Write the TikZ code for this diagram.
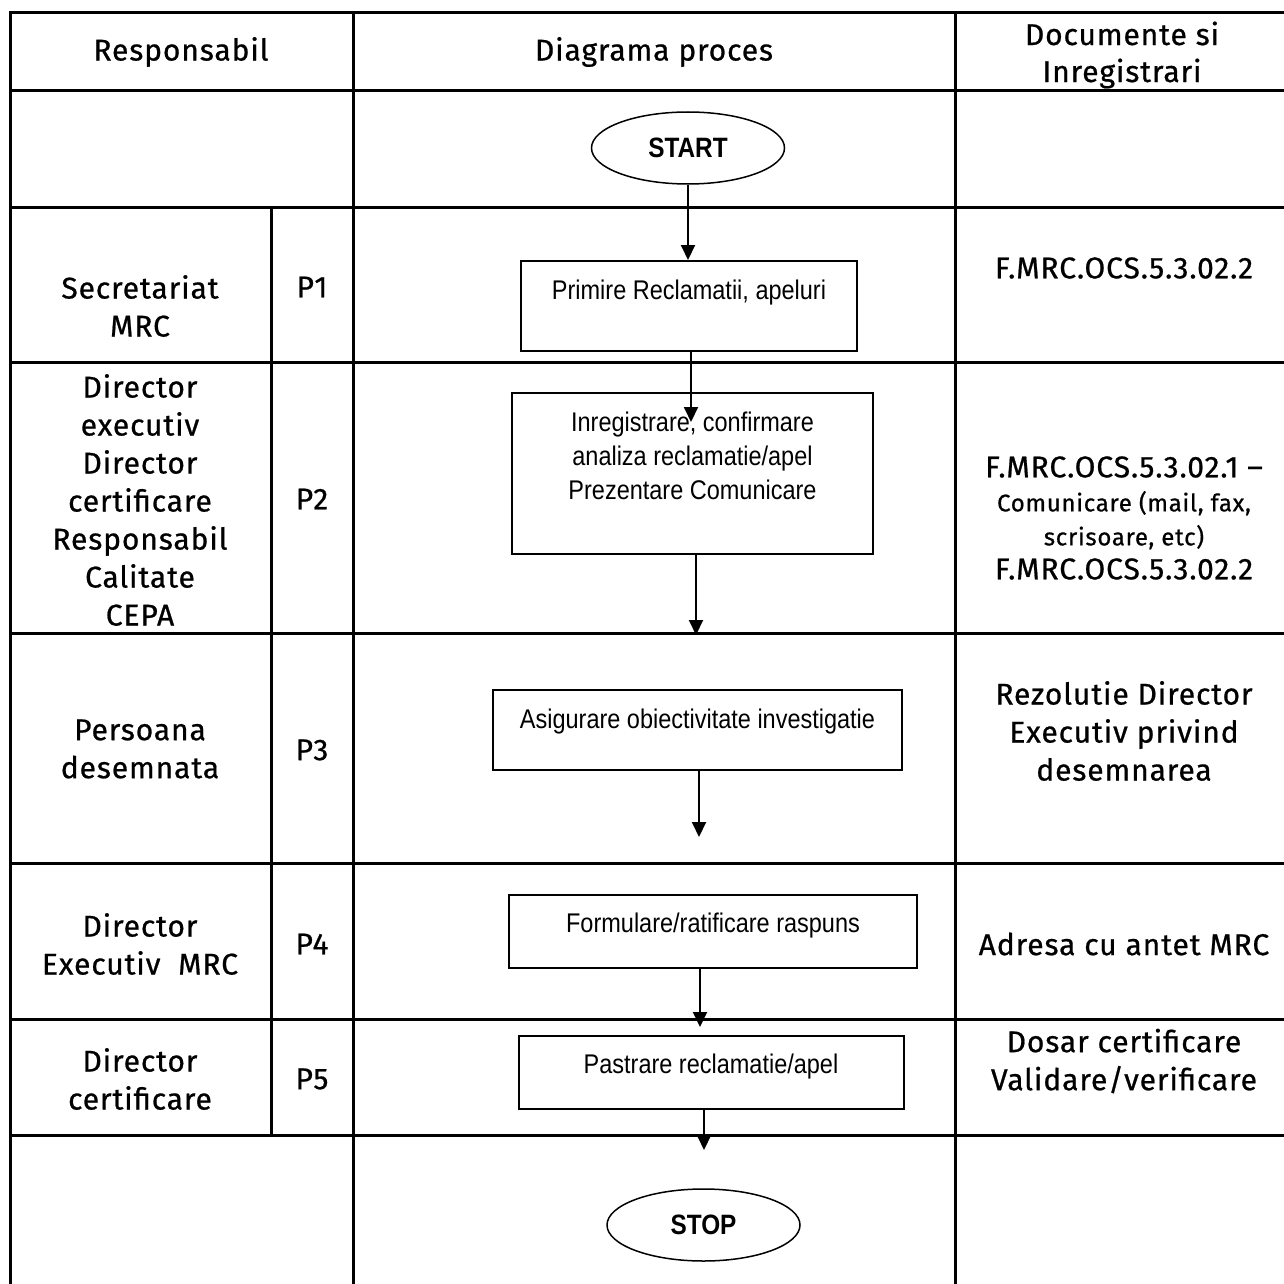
\documentclass[tikz,border=0pt]{standalone}
\usepackage{fontspec}
\setmainfont{Fira Sans}[LetterSpace=3, FakeBold=0.7]
\newfontfamily\boxfont{Liberation Sans}[FakeStretch=0.87]
\usetikzlibrary{arrows.meta,shapes.geometric}
\begin{document}
\begin{tikzpicture}[x=1pt,y=-1pt,
  grid/.style={line width=3pt},
  cell/.style={font=\fontsize{30}{38}\selectfont, align=center, inner sep=0pt},
  procbox/.style={draw, line width=2pt, inner sep=0pt},
  term/.style={draw, ellipse, line width=1.5pt, inner sep=0pt, minimum width=193pt, minimum height=72pt, font=\boxfont\bfseries\fontsize{28}{30}\selectfont},
  btext/.style={font=\boxfont\fontsize{27}{34}\selectfont, align=center, inner sep=0pt},
  arr/.style={line width=2pt, -{Triangle[length=15pt,width=14pt]}}
]
\useasboundingbox (0,0) rectangle (1284,1284);
\clip (0,0) rectangle (1284,1284);
\fill[white] (0,0) rectangle (1284,1284);

% table grid
\draw[grid] (10,13) rectangle (1300,1300);
\foreach \yy in {91,207,362,633,863,1019,1135} {\draw[grid] (10,\yy) -- (1300,\yy);}
\draw[grid] (271,207) -- (271,1135);
\draw[grid] (353,13) -- (353,1300);
\draw[grid] (955,13) -- (955,1300);

% header
\node[cell] (h1) at (181,52) {Responsabil};
\node[cell] (h2) at (654,52) {Diagrama proces};
\node[cell, font=\fontsize{30}{37}\selectfont] (h3) at (1122,55) {Documente si\\Inregistrari};

% left column
\node[cell] (r1) at (140,306) {Secretariat\\MRC};
\node[cell] (r2) at (140,500) {Director\\executiv\\Director\\certificare\\Responsabil\\Calitate\\CEPA};
\node[cell] (r3) at (140,749) {Persoana\\desemnata};
\node[cell] (r4) at (140,944) {Director\\Executiv\ \ MRC};
\node[cell] (r5) at (140,1079) {Director\\certificare};

% P column
\node[cell] (p1) at (312,287) {P1};
\node[cell] (p2) at (312,499) {P2};
\node[cell] (p3) at (312,750) {P3};
\node[cell] (p4) at (312,944) {P4};
\node[cell] (p5) at (312,1079) {P5};

% documents column
\node[cell] (d1) at (1124,268) {F.MRC.OCS.5.3.02.2};
\node[cell, font=\fontsize{30}{34}\selectfont] (d2) at (1124,518) {F.MRC.OCS.5.3.02.1 --\\{\fontsize{24}{34}\selectfont Comunicare (mail, fax,}\\{\fontsize{24}{34}\selectfont scrisoare, etc)}\\F.MRC.OCS.5.3.02.2};
\node[cell] (d3) at (1124,731) {Rezolutie Director\\Executiv privind\\desemnarea};
\node[cell] (d4) at (1124,944) {Adresa cu antet MRC};
\node[cell] (d5) at (1124,1061) {Dosar certificare\\Validare/verificare};

% flowchart
\node[term] (start) at (688,148) {START};
\node[procbox, minimum width=336pt, minimum height=90pt] (b1) at (689,306) {};
\node[btext] (b1t) at (689,293) {Primire Reclamatii, apeluri};
\node[procbox, minimum width=361pt, minimum height=161pt] (b2) at (692.5,473.5) {};
\node[btext] (b2t) at (692.5,456) {Inregistrare, confirmare\\analiza reclamatie/apel\\Prezentare Comunicare};
\node[procbox, minimum width=409pt, minimum height=80pt] (b3) at (697.5,730) {};
\node[btext] (b3t) at (697.5,722) {Asigurare obiectivitate investigatie};
\node[procbox, minimum width=408pt, minimum height=73pt] (b4) at (713,931.5) {};
\node[btext] (b4t) at (713,926) {Formulare/ratificare raspuns};
\node[procbox, minimum width=385pt, minimum height=73pt] (b5) at (711,1072.5) {};
\node[btext] (b5t) at (711,1067) {Pastrare reclamatie/apel};
\node[term] (stop) at (703.5,1225) {STOP};

\coordinate (a2) at (691,422);
\coordinate (a3) at (696,635);
\coordinate (a4) at (699,837);
\coordinate (a5) at (700,1027);
\coordinate (a6) at (704,1150);

\draw[arr] (start.south) -- (start.south |- b1.north);
\draw[arr] (b1.south -| a2) -- (a2);
\draw[arr] (b2.south -| a3) -- (a3);
\draw[arr] (b3.south -| a4) -- (a4);
\draw[arr] (b4.south -| a5) -- (a5);
\draw[arr] (b5.south -| a6) -- (a6);
\end{tikzpicture}
\end{document}
